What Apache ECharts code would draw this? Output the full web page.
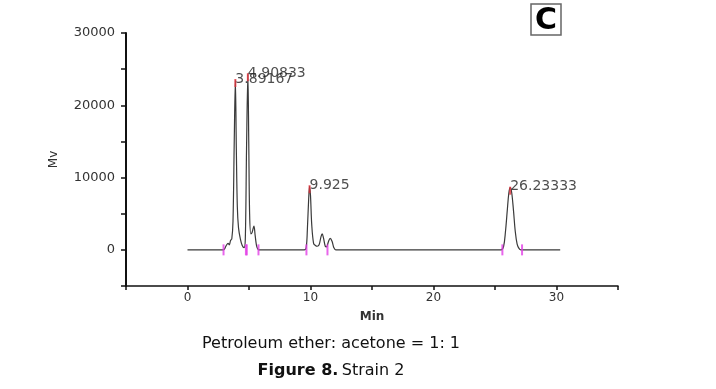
<!DOCTYPE html>
<html>
<head>
<meta charset="utf-8">
<script src="https://cdn.jsdelivr.net/npm/echarts@6/dist/echarts.min.js"></script>
<style>html,body{margin:0;padding:0;background:#fff;}#c{width:716px;height:389px;}</style>
</head>
<body>
<div id="c"></div>
<script>
// Chromatogram trace (retention time in min, signal in Mv)
var times  = [0, 2.9, 3.0, 3.15, 3.3, 3.4, 3.5, 3.6, 3.7, 3.8, 3.89167, 3.97, 4.05, 4.15, 4.3, 4.45, 4.6, 4.7, 4.8, 4.90833, 4.98, 5.05, 5.15, 5.25, 5.4, 5.5, 5.6, 5.7, 5.8, 9.5, 9.65, 9.75, 9.85, 9.925, 10.0, 10.1, 10.25, 10.4, 10.55, 10.7, 10.85, 10.95, 11.05, 11.2, 11.3, 11.45, 11.6, 11.75, 11.9, 12.05, 25.5, 25.7, 25.85, 26.0, 26.12, 26.23333, 26.35, 26.5, 26.65, 26.8, 26.95, 27.1, 30.3];
var signal = [0, 0, 100, 600, 900, 700, 1300, 1500, 4000, 15000, 23500, 14000, 6000, 3000, 1500, 600, 300, 1500, 14000, 24300, 15000, 5000, 2200, 2400, 3300, 2000, 700, 150, 0, 0, 300, 3000, 7000, 8800, 7500, 3500, 900, 600, 500, 700, 1800, 2200, 1700, 500, 400, 1100, 1600, 1200, 300, 0, 0, 500, 2500, 5500, 7800, 8600, 8000, 5500, 2500, 800, 200, 0, 0];
// Labelled peaks
var peakTimes   = [3.89167, 4.90833, 9.925, 26.23333];
var peakHeights = [23500, 24300, 8800, 8600];
var peakLabels  = ['3.89167', '4.90833', '9.925', '26.23333'];
// Integration boundary markers on baseline
var markerTimes = [2.93, 4.75, 4.82, 5.77, 9.67, 11.38, 25.6, 27.2];
// Axis ticks
var xTickLabels = [0, 10, 20, 30];
var yTickLabels = [0, 10000, 20000, 30000];

var trace = times.map(function (t, i) { return [t, signal[i]]; });
var peaks = peakTimes.map(function (t, i) { return { value: [t, peakHeights[i]], name: peakLabels[i] }; });
var markers = markerTimes.map(function (t) { return [t, 0]; });

var chart = echarts.init(document.getElementById('c'));
var font = 'DejaVu Sans';
chart.setOption({
  animation: false,
  backgroundColor: '#fff',
  grid: { left: 126, top: 33, width: 492, height: 253 },
  xAxis: {
    type: 'value', min: -5, max: 35, interval: 5,
    name: 'Min', nameLocation: 'middle', nameGap: 25,
    nameTextStyle: { fontFamily: font, fontSize: 12, fontWeight: 'bold', color: '#333' },
    axisLine: { onZero: false, lineStyle: { color: '#111', width: 1.5 } },
    axisTick: { show: true, inside: false, length: 4, lineStyle: { color: '#111', width: 1.5 } },
    axisLabel: {
      fontFamily: font, fontSize: 12, color: '#333', margin: 6,
      formatter: function (v) { return xTickLabels.indexOf(v) >= 0 ? String(v) : ''; }
    },
    splitLine: { show: false }
  },
  yAxis: {
    type: 'value', min: -5000, max: 30000, interval: 5000,
    name: 'Mv', nameLocation: 'middle', nameGap: 66, nameRotate: 90,
    nameTextStyle: { fontFamily: font, fontSize: 12, color: '#333' },
    axisLine: { onZero: false, lineStyle: { color: '#111', width: 2 } },
    axisTick: { show: true, inside: false, length: 5, lineStyle: { color: '#111', width: 1.5 } },
    axisLabel: {
      fontFamily: font, fontSize: 13, color: '#333', margin: 11,
      formatter: function (v) { return yTickLabels.indexOf(v) >= 0 ? String(v) : ''; }
    },
    splitLine: { show: false }
  },
  series: [
    {
      type: 'line', data: trace, showSymbol: false, smooth: 0.35,
      lineStyle: { color: '#3a3a3a', width: 1.2 }, z: 2
    },
    {
      type: 'scatter', data: markers, symbol: 'rect', symbolSize: [2, 11], symbolOffset: [0, 0],
      itemStyle: { color: '#e23ee6' }, z: 3
    },
    {
      type: 'scatter', data: peaks, symbol: 'rect', symbolSize: [2, 8], symbolOffset: [0, 3],
      itemStyle: { color: '#e0303a' }, z: 4,
      label: {
        show: true, position: 'right', distance: 0, offset: [-1, -4],
        formatter: function (p) { return p.name; },
        fontFamily: font, fontSize: 14, color: '#222'
      }
    }
  ],
  graphic: [
    { type: 'rect', shape: { x: 531, y: 4, width: 30, height: 31 },
      style: { fill: '#fff', stroke: '#666', lineWidth: 1.5 } },
    { type: 'text', x: 546, y: 21,
      style: { text: 'C', font: 'bold 30px "DejaVu Sans"', fill: '#000', textAlign: 'center', textVerticalAlign: 'middle' } },
    { type: 'text', x: 331, y: 344,
      style: { text: 'Petroleum ether: acetone = 1: 1', font: '16px "DejaVu Sans"', fill: '#111', textAlign: 'center', textVerticalAlign: 'middle' } },
    { type: 'text', x: 331, y: 371,
      style: {
        text: '{b|Figure 8.} {n|Strain 2}', textAlign: 'center', textVerticalAlign: 'middle',
        rich: {
          b: { fontFamily: 'DejaVu Sans', fontWeight: 'bold', fontSize: 16, fill: '#111', color: '#111' },
          n: { fontFamily: 'DejaVu Sans', fontSize: 16, fill: '#111', color: '#111' }
        }
      } }
  ]
});
</script>
</body>
</html>
